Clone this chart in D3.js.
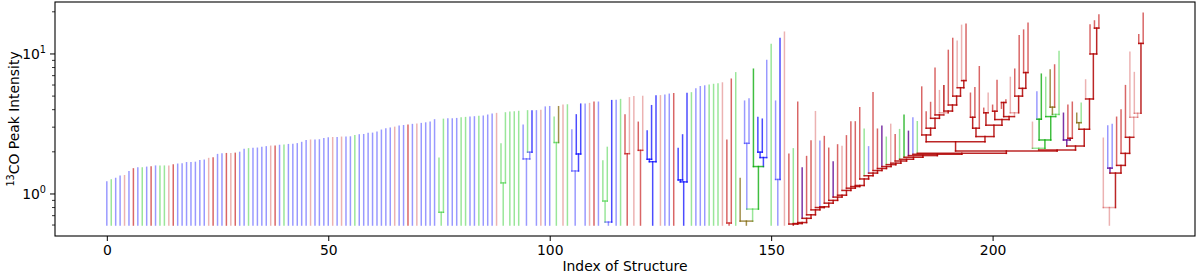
<!DOCTYPE html>
<html lang="en">
<head>
<meta charset="UTF-8">
<title>Dendrogram</title>
<script src="https://d3js.org/d3.v7.min.js"></script>
<style>
    body { margin: 0; background: #fff; }
    text { font-family: "DejaVu Sans", sans-serif; }
</style>
</head>
<body>
<svg id="chart" width="1200" height="275"></svg>
<script>

// peak value of every leaf, by index of structure
const peaks = [
    1.22, 1.26, 1.29, 1.34, 1.35, 1.44, 1.51, 1.53, 1.53, 1.55,
    1.56, 1.58, 1.58, 1.58, 1.58, 1.61, 1.63, 1.64, 1.67, 1.67,
    1.68, 1.73, 1.74, 1.79, 1.81, 1.91, 1.93, 1.94, 1.94, 1.95,
    1.98, 2.08, 2.10, 2.11, 2.12, 2.15, 2.17, 2.19, 2.19, 2.22,
    2.23, 2.25, 2.26, 2.28, 2.33, 2.40, 2.42, 2.42, 2.43, 2.48,
    2.51, 2.52, 2.52, 2.54, 2.54, 2.55, 2.61, 2.64, 2.65, 2.70,
    2.71, 2.76, 2.85, 2.91, 2.95, 2.99, 3.04, 3.07, 3.09, 3.13,
    3.15, 3.18, 3.21, 3.25, 3.38, 1.80, 3.41, 3.43, 3.43, 3.45,
    3.49, 3.51, 3.53, 3.55, 3.57, 3.59, 3.65, 3.71, 3.75, 2.27,
    3.79, 3.83, 3.85, 3.88, 3.09, 3.92, 3.92, 3.92, 3.94, 4.17,
    4.20, 3.53, 4.20, 4.30, 4.32, 2.86, 3.67, 4.38, 4.38, 4.42,
    4.52, 4.52, 1.72, 2.15, 4.64, 4.66, 4.72, 3.66, 4.86, 4.95,
    3.25, 4.97, 2.82, 4.27, 5.00, 5.02, 5.07, 5.15, 5.20, 2.11,
    2.64, 5.22, 5.27, 5.63, 5.83, 5.90, 5.98, 6.05, 6.10, 6.20,
    2.42, 6.60, 7.33, 1.29, 4.60, 4.77, 7.78, 3.51, 3.42, 8.98,
    11.7, 4.60, 12.9, 14.3, 1.92, 2.10, 4.52, 1.53, 1.85, 2.39,
    3.87, 2.38, 2.57, 2.12, 1.69, 2.24, 2.18, 2.60, 3.27, 3.27,
    4.13, 2.90, 2.17, 5.29, 2.90, 3.04, 2.54, 3.14, 2.65, 2.88,
    3.65, 2.80, 3.49, 3.28, 5.80, 3.85, 4.50, 7.90, 5.47, 5.94,
    10.6, 12.9, 12.3, 16.0, 16.3, 5.24, 5.74, 8.10, 4.09, 5.24,
    4.30, 6.45, 4.10, 4.69, 6.80, 7.78, 13.5, 14.8, 16.6, 3.25,
    5.35, 7.17, 6.80, 7.68, 8.34, 10.4, 3.77, 4.30, 4.52, 3.77,
    4.44, 6.52, 16.1, 17.2, 19.0, 2.50, 3.06, 3.14, 3.53, 3.98,
    5.94, 10.3, 7.36, 13.7, 19.5
];

// colour class of every leaf (b/B blue, g/G green, p/r/R red, v purple, o olive)
const leafClass = (
    'bgbbpbrbgb rbggprbbbb bbbprbbrpr bbgbbbbprb gbbbbbpbbb ' +
    'bpbpbbgbbb bbbbbpbbrb pbbbbggbbb ggbbgbbbpg ggggbgBbpb ' +
    'bgopgbBBbp rbggBbgrpp rpBBBpbbrB BBgbbbgggp rrgobbGBBb ' +
    'gbBprgrvrr pbrrvrprrr rgbrrvgprg GvbgrrrrpR rrpprrrrrp ' +
    'rrrrprrrrp bGgorgvrro gprrrpbbrr rpprr'
).replace(/ /g, '').split('');

// small structures: [merge value, colour class, child, child]
const smallTrees = [
    [0.74, 'g', 75, 76],
    [1.20, 'g', 89, 90],
    [1.78, 'b', 94, [1.99, 'b', 95, 96]],
    [2.33, 'g', 101, 102],
    [1.46, 'b', 105, [1.93, 'B', 106, 107]],
    [0.63, 'b', [0.89, 'g', 112, 113], 114],
    [1.94, 'r', 117, 118],
    [2.05, 'r', 120, 121],
    [1.70, 'B', [1.77, 'B', 122, 123], 124],
    [1.22, 'B', [1.26, 'B', 129, 130], 131],
    [0.62, 'r', 140, 141],
    [0.64, 'o', 143, [0.78, 'g', [2.30, 'b', 144, 145],
        [1.57, 'G', 146, [1.82, 'B', [1.99, 'B', 147, 148], 149]]]],
    [1.27, 'b', 151, 152],
    [0.80, 'p', 225, [1.41, 'R', [1.53, 'v', 226, 227],
        [1.60, 'R', 228, [1.95, 'R', 229, [2.54, 'R', 230,
            [3.53, 'p', 231, [3.77, 'p', 232, [11.9, 'R', 233, 234]]]]]]]]
];

// upper part of the large red structure
const groupA = [2.64, 'R', 184, [2.95, 'R', 185, [3.47, 'R', 186, [3.67, 'R', 187,
    [3.80, 'p', 188, [3.91, 'R', 189, [4.32, 'R', 190, [5.00, 'R', 191,
    [5.74, 'R', 192, [6.45, 'R', 193, 194]]]]]]]]]];
const groupB = [2.57, 'R', [2.95, 'R', [3.53, 'R', 195, 196], 197],
    [3.10, 'R', [3.80, 'R', 198, 199], [3.40, 'R', [3.90, 'R', 200, 201],
    [3.57, 'R', [4.50, 'R', 202, 203], [3.80, 'p', 204, [5.00, 'R', 205,
    [5.68, 'R', 206, [7.36, 'R', 207, 208]]]]]]]];
const groupC = [2.06, 'R',
    [2.12, 'g', 209, [2.43, 'G', [3.42, 'G', 210, 211],
        [3.57, 'G', 212, [3.70, 'g', [4.17, 'o', 213, 214], 215]]]],
    [2.20, 'R', [2.43, 'v', 216, [2.50, 'R', 217, 218]],
        [2.90, 'R', [3.23, 'o', 219, 220], [4.77, 'R', 221, [10.0, 'R', 222, [15.3, 'R', 223, 224]]]]]];
const groupTop = [2.03, 'R', [2.36, 'R', groupA, groupB], groupC];

// staircase of the large red structure: leaf and value where it joins
const stairLeaves = [154, 155, 156, 157, 158, 159, 160, 161, 162, 163,
    164, 165, 166, 167, 168, 169, 170, 171, 172, 173,
    174, 175, 176, 177, 178, 179, 180, 181, 182, 183];
const stairValues = [0.61, 0.615, 0.625, 0.67, 0.71, 0.77, 0.80, 0.81, 0.86, 0.90,
    0.95, 0.98, 1.06, 1.10, 1.13, 1.15, 1.28, 1.35, 1.41, 1.47,
    1.52, 1.57, 1.62, 1.66, 1.72, 1.77, 1.83, 1.88, 1.92, 1.95];

const baseValue = 0.6;
const xTicks = [0, 50, 100, 150, 200];

// ---------------------------------------------------------------

let redTree = groupTop;
for (let i = stairLeaves.length - 1; i >= 0; i--) {
    redTree = [stairValues[i], 'R', stairLeaves[i], redTree];
}
const trees = smallTrees.concat([redTree]);

const palette = {
    b: ['#0000ff', 0.4], B: ['#0000ff', 0.7],
    g: ['#00c000', 0.4], G: ['#00a800', 0.75],
    p: ['#c00000', 0.3], r: ['#c00000', 0.6], R: ['#b00000', 0.85],
    v: ['#5a0090', 0.8], o: ['#7a6000', 0.7]
};

const plot = { l: 55, r: 1195, t: 2, b: 236 };
const x = d3.scaleLinear().domain([-11.7, 245.7]).range([plot.l, plot.r]);
const y = d3.scaleLog().domain([0.501, 23.5]).range([plot.b, plot.t]);

const svg = d3.select('#chart');

// collect segments
const segs = [];
const used = new Set();
function walk(node, from) {
    if (typeof node === 'number') {
        used.add(node);
        segs.push({ x1: node, x2: node, v1: from, v2: peaks[node], c: leafClass[node] });
        return node;
    }
    const [h, c, ...kids] = node;
    const xs = kids.map(k => walk(k, h));
    const xm = d3.mean(xs);
    segs.push({ x1: d3.min(xs), x2: d3.max(xs), v1: h, v2: h, c: c });
    segs.push({ x1: xm, x2: xm, v1: from, v2: h, c: c });
    return xm;
}
trees.forEach(t => walk(t, baseValue));
peaks.forEach((p, i) => {
    if (!used.has(i)) segs.push({ x1: i, x2: i, v1: baseValue, v2: p, c: leafClass[i] });
});

svg.append('clipPath').attr('id', 'clip')
    .append('rect').attr('x', plot.l).attr('y', plot.t)
    .attr('width', plot.r - plot.l).attr('height', plot.b - plot.t);

svg.append('g').attr('clip-path', 'url(#clip)')
    .selectAll('line')
    .data(segs)
    .enter()
    .append('line')
    .attr('x1', d => x(d.x1))
    .attr('x2', d => x(d.x2))
    .attr('y1', d => y(d.v1))
    .attr('y2', d => y(d.v2))
    .style('stroke', d => palette[d.c][0])
    .style('stroke-opacity', d => palette[d.c][1])
    .style('stroke-width', 1.5)
    .style('stroke-linecap', 'square');

// frame
svg.append('rect')
    .attr('x', plot.l).attr('y', plot.t)
    .attr('width', plot.r - plot.l).attr('height', plot.b - plot.t)
    .style('fill', 'none').style('stroke', '#000').style('stroke-width', 1.1);

// x axis
const xAxis = svg.append('g')
    .attr('transform', `translate(0,${plot.b})`)
    .call(d3.axisBottom(x).tickValues(xTicks).tickSize(5).tickPadding(4).tickSizeOuter(0));
xAxis.select('.domain').remove();
xAxis.selectAll('text').style('font-size', '13.9px').style('font-family', '"DejaVu Sans"');

// y axis (log, major + minor ticks)
const yMajor = [1, 10];
const yMinor = [0.6, 0.7, 0.8, 0.9, 2, 3, 4, 5, 6, 7, 8, 9, 20];
const yAxis = svg.append('g');
yAxis.selectAll('line.major').data(yMajor).enter().append('line')
    .attr('x1', plot.l - 5).attr('x2', plot.l)
    .attr('y1', d => y(d)).attr('y2', d => y(d))
    .style('stroke', '#000').style('stroke-width', 1);
yAxis.selectAll('line.minor').data(yMinor).enter().append('line')
    .attr('x1', plot.l - 3).attr('x2', plot.l)
    .attr('y1', d => y(d)).attr('y2', d => y(d))
    .style('stroke', '#000').style('stroke-width', 0.8);
const yLab = yAxis.selectAll('text').data(yMajor).enter().append('text')
    .attr('x', plot.l - 9)
    .attr('y', d => y(d) + 5)
    .attr('text-anchor', 'end')
    .style('font-size', '13.9px');
yLab.append('tspan').text('10');
yLab.append('tspan').attr('dy', -6).style('font-size', '9.7px').text(d => Math.round(Math.log10(d)));

// axis labels
svg.append('text')
    .attr('x', (plot.l + plot.r) / 2).attr('y', 271)
    .attr('text-anchor', 'middle')
    .style('font-size', '13.9px')
    .text('Index of Structure');

const yl = svg.append('text')
    .attr('transform', `translate(19,${(plot.t + plot.b) / 2}) rotate(-90)`)
    .attr('text-anchor', 'middle')
    .style('font-size', '13.9px');
yl.append('tspan').attr('dy', -5).style('font-size', '9.7px').text('13');
yl.append('tspan').attr('dy', 5).text('CO Peak Intensity');

</script>
</body>
</html>
